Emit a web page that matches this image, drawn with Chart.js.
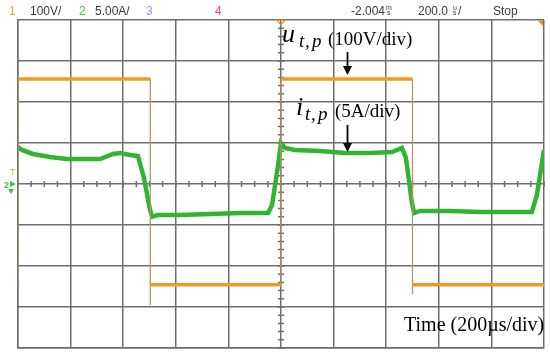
<!DOCTYPE html>
<html>
<head>
<meta charset="utf-8">
<script src="https://cdn.jsdelivr.net/npm/chart.js@4.4.1/dist/chart.umd.min.js"></script>
<style>
  html, body { margin: 0; padding: 0; background: #fff; }
  #wrap { width: 550px; height: 353px; position: relative; }
</style>
</head>
<body>
<div id="wrap"><canvas id="scope" width="550" height="353"></canvas></div>
<script>
// time axis: microseconds from screen centre (200 us/div, 10 div)
const timeTicks = [-1000, -800, -600, -400, -200, 0, 200, 400, 600, 800, 1000];

// u_t,p trace, volts (100 V/div)
const voltTimes  = [-1000, -1000, -497, -497, -497, 0, 0, 500, 500, 500, 1000];
const voltValues = [-246, 256, 256, -295, -246, -246, 256, 256, -268, -246, -246];

// i_t,p trace, amps (5 A/div)
const currTimes  = [-1000, -985, -943, -878, -814, -753, -688, -639, -612, -574, -544, -521, -498, -490,
                    -468, -384, -270, -156, -49, -34, -11, 0, 15, 53, 148, 243, 338, 422, 460, 475,
                    498, 506, 529, 643, 757, 871, 954, 973, 1000];
const currValues = [4.5, 4.15, 3.66, 3.29, 3.05, 3.05, 3.05, 3.66, 3.78, 3.54, 3.41, 0.73, -3.17, -4.0,
                    -3.78, -3.78, -3.66, -3.54, -3.54, -2.56, 2.32, 5.0, 4.39, 4.15, 4.02, 3.78, 3.78, 3.9, 4.39, 3.17,
                    -2.32, -3.54, -3.29, -3.29, -3.41, -3.41, -3.41, -1.34, 4.15];

const voltPerDiv = 100;
const ampPerDiv = 5;

const voltPts = voltTimes.map((t, i) => ({ x: t, y: voltValues[i] / voltPerDiv }));
const currPts = currTimes.map((t, i) => ({ x: t, y: currValues[i] / ampPerDiv }));

const isVertical = c => c.p0.parsed.x === c.p1.parsed.x;

// minor ticks on the centre cross, header readouts, labels
const scopeDecor = {
  id: 'scopeDecor',
  beforeDatasetsDraw(chart) {
    const ctx = chart.ctx;
    const xs = chart.scales.x, ys = chart.scales.y;
    const cx = xs.getPixelForValue(0), cy = ys.getPixelForValue(0);
    ctx.save();
    ctx.strokeStyle = '#6e6e6e';
    ctx.lineWidth = 1.5;
    ctx.beginPath();
    for (let t = -1000; t <= 1000; t += 50) {
      const px = xs.getPixelForValue(t);
      ctx.moveTo(px, cy - 3); ctx.lineTo(px, cy + 3);
    }
    for (let d = -4; d <= 4; d += 0.2) {
      const py = ys.getPixelForValue(d);
      ctx.moveTo(cx - 3, py); ctx.lineTo(cx + 3, py);
    }
    ctx.stroke();
    ctx.restore();
  },
  afterDraw(chart) {
    const ctx = chart.ctx;
    const area = chart.chartArea;
    ctx.save();
    // header
    ctx.textBaseline = 'alphabetic';
    ctx.font = '12px "Liberation Sans"';
    const hy = 15;
    ctx.fillStyle = '#f0a040'; ctx.fillText('1', 9, hy);
    ctx.fillStyle = '#3a3a3a'; ctx.fillText('100V/', 30, hy);
    ctx.fillStyle = '#44c044'; ctx.fillText('2', 79, hy);
    ctx.fillStyle = '#3a3a3a'; ctx.fillText('5.00A/', 95, hy);
    ctx.fillStyle = '#8a98f0'; ctx.fillText('3', 146, hy);
    ctx.fillStyle = '#e8409a'; ctx.fillText('4', 215, hy);
    ctx.fillStyle = '#3a3a3a'; ctx.fillText('-2.004', 351, hy);
    ctx.fillText('200.0', 418, hy);
    ctx.fillText('Stop', 493, hy);
    ctx.font = '7px "Liberation Sans"';
    ctx.fillText('m', 386, hy - 5); ctx.fillText('s', 387, hy);
    ctx.fillText('u', 453, hy - 5); ctx.fillText('s', 453, hy);
    ctx.font = '12px "Liberation Sans"';
    ctx.fillText('/', 458, hy);

    // trigger markers
    const cx = chart.scales.x.getPixelForValue(0);
    ctx.strokeStyle = '#f08a1a'; ctx.lineWidth = 1.2;
    ctx.beginPath();
    ctx.moveTo(cx - 4, area.top); ctx.lineTo(cx + 4, area.top); ctx.lineTo(cx, area.top + 5); ctx.closePath();
    ctx.stroke();
    ctx.fillStyle = '#f08a1a';
    ctx.beginPath();
    ctx.moveTo(area.right - 6, area.top + 1); ctx.lineTo(area.right - 1, area.top + 1); ctx.lineTo(area.right - 1, area.top + 6); ctx.closePath();
    ctx.fill();
    const cy = chart.scales.y.getPixelForValue(0);
    ctx.font = '9px "Liberation Sans"';
    ctx.fillStyle = '#f0a040'; ctx.fillText('T', 10, cy - 9);
    ctx.fillStyle = '#44c044'; ctx.font = 'bold 9px "Liberation Sans"'; ctx.fillText('2', 4, cy + 4);
    ctx.beginPath();
    ctx.moveTo(10, cy - 3); ctx.lineTo(16, cy); ctx.lineTo(10, cy + 3); ctx.closePath(); ctx.fill();
    ctx.beginPath();
    ctx.moveTo(8, cy + 5); ctx.lineTo(14, cy + 5); ctx.lineTo(11, cy + 10); ctx.closePath(); ctx.fill();

    // trace labels
    ctx.fillStyle = '#000';
    ctx.font = 'italic 26px "Liberation Serif"';
    ctx.fillText('u', 282, 42);
    ctx.font = 'italic 19px "Liberation Serif"';
    ctx.fillText('t', 299, 47); ctx.fillText(',', 305, 47); ctx.fillText('p', 312, 47);
    ctx.font = '19px "Liberation Serif"';
    ctx.fillText('(100V/div)', 328, 45);

    ctx.font = 'italic 26px "Liberation Serif"';
    ctx.fillText('i', 296, 115);
    ctx.font = 'italic 19px "Liberation Serif"';
    ctx.fillText('t', 305, 120); ctx.fillText(',', 311, 120); ctx.fillText('p', 318, 120);
    ctx.font = '19px "Liberation Serif"';
    ctx.fillText('(5A/div)', 335, 117);

    ctx.font = '20px "Liberation Serif"';
    ctx.fillText('Time (200\u00b5s/div)', 404, 331);

    // arrows
    const arrow = (x, y0, y1) => {
      ctx.strokeStyle = '#000'; ctx.lineWidth = 1.8;
      ctx.beginPath(); ctx.moveTo(x, y0); ctx.lineTo(x, y1 - 7); ctx.stroke();
      ctx.beginPath(); ctx.moveTo(x - 4.5, y1 - 9); ctx.lineTo(x + 4.5, y1 - 9); ctx.lineTo(x, y1); ctx.closePath(); ctx.fill();
    };
    arrow(347.5, 52, 75);
    arrow(347.5, 125, 152);
    ctx.restore();
  }
};

new Chart(document.getElementById('scope'), {
  type: 'line',
  data: {
    datasets: [
      {
        label: 'i_t,p',
        data: currPts,
        borderColor: '#2fb52f',
        borderWidth: 4.5,
        pointRadius: 0,
        tension: 0,
        order: 2
      },
      {
        label: 'u_t,p',
        data: voltPts,
        borderColor: '#f29a1e',
        borderWidth: 3.5,
        pointRadius: 0,
        tension: 0,
        order: 1,
        segment: {
          borderColor: c => isVertical(c) ? '#b89466' : '#f29a1e',
          borderWidth: c => isVertical(c) ? 1.3 : 3.5
        }
      }
    ]
  },
  options: {
    responsive: false,
    animation: false,
    devicePixelRatio: 1,
    layout: { padding: { left: 18, right: 6, top: 20, bottom: 5 } },
    plugins: { legend: { display: false }, tooltip: { enabled: false } },
    scales: {
      x: {
        type: 'linear',
        min: -1000, max: 1000,
        afterBuildTicks: s => { s.ticks = timeTicks.map(v => ({ value: v })); },
        ticks: { display: false },
        grid: { color: '#6e6e6e', lineWidth: 1.5, drawTicks: false },
        border: { color: '#6e6e6e', width: 1.5 }
      },
      y: {
        min: -4, max: 4,
        ticks: { display: false, stepSize: 1 },
        grid: { color: '#6e6e6e', lineWidth: 1.5, drawTicks: false },
        border: { color: '#6e6e6e', width: 1.5 }
      }
    }
  },
  plugins: [scopeDecor]
});
</script>
</body>
</html>
